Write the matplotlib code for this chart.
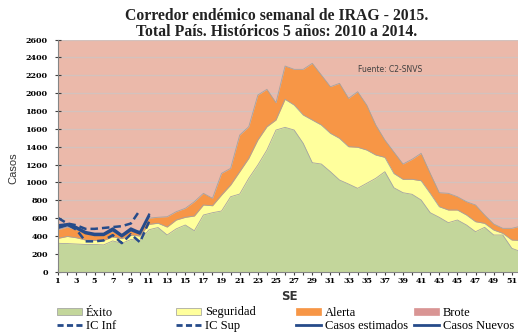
import numpy as np
import matplotlib
matplotlib.use("Agg")
import matplotlib.pyplot as plt
from matplotlib.lines import Line2D
from matplotlib.patches import Patch

# semanas epidemiologicas
semanas = list(range(1, 53))

# limites acumulados del corredor (techo de cada zona)
exito = [318, 315, 310, 305, 305, 300, 345, 318, 360, 350, 470, 495, 411, 480,
         523, 459, 635, 661, 680, 840, 870, 1046, 1195, 1363, 1587, 1617, 1587,
         1438, 1221, 1206, 1120, 1027, 982, 934, 990, 1046, 1120, 940, 885, 867,
         803, 661, 609, 549, 579, 523, 448, 497, 411, 411, 262, 224]
seguridad = [374, 395, 380, 355, 350, 350, 390, 370, 411, 400, 530, 543, 500, 579,
             609, 624, 747, 739, 859, 971, 1120, 1270, 1475, 1624, 1700, 1931,
             1867, 1755, 1699, 1643, 1550, 1494, 1400, 1394, 1363, 1307, 1281,
             1100, 1035, 1035, 1019, 878, 728, 691, 691, 635, 560, 542, 467, 430,
             355, 350]
alerta = [470, 500, 470, 430, 420, 420, 450, 420, 460, 460, 600, 610, 616, 672,
          710, 784, 878, 822, 1102, 1158, 1531, 1624, 1979, 2043, 1893, 2304,
          2267, 2267, 2334, 2203, 2072, 2110, 1942, 2016, 1867, 1643, 1475, 1340,
          1206, 1259, 1326, 1102, 885, 878, 840, 784, 747, 635, 534, 486, 486, 511]
brote = 2600

# casos 2015
sem_2015 = list(range(1, 12))
casos_estimados = [505, 535, 500, 445, 425, 425, 485, 410, 485, 440, 640]
casos_nuevos = [490, 520, 485, 430, 410, 410, 465, 395, 465, 425, 620]
ic_inf = [520, 530, 470, 340, 340, 350, 410, 320, 420, 330, 560]
ic_sup = [600, 540, 520, 480, 480, 490, 500, 510, 540, 690]

c_verde = "#C3D69B"
c_amarillo = "#FFFF9C"
c_naranja = "#F79646"
c_brote = "#EBB9AA"
c_brote_ley = "#D99594"
c_azul = "#264B8A"
c_borde = "#A3A3A3"

fig = plt.figure(figsize=(5.18, 3.33), dpi=100)
ax = fig.add_axes([58.3 / 518, 61.3 / 333, 462.6 / 518, 232.1 / 333])
ax.set_facecolor(c_brote)

x = np.array(semanas)
ax.fill_between(x, 0, alerta, color=c_naranja, lw=0, zorder=2)
ax.fill_between(x, 0, seguridad, color=c_amarillo, lw=0, zorder=3)
ax.fill_between(x, 0, exito, color=c_verde, lw=0, zorder=4)
for serie in (alerta, seguridad, exito):
    ax.plot(x, serie, color=c_borde, lw=0.6, zorder=5)

ax.plot(sem_2015, ic_inf, color=c_azul, lw=1.8, dashes=(3, 1.6), zorder=6)
ax.plot(sem_2015[:len(ic_sup)], ic_sup, color=c_azul, lw=1.8, dashes=(3, 1.6), zorder=6)
ax.plot(sem_2015, casos_estimados, color=c_azul, lw=1.6, zorder=7)
ax.plot(sem_2015, casos_nuevos, color=c_azul, lw=1.6, zorder=7)

ax.set_xlim(1, 52)
ax.set_ylim(0, brote)
ax.set_yticks(range(0, 2601, 200))
ax.yaxis.grid(True, color="#D3C2BE", lw=0.9)
ax.set_axisbelow(True)
ax.set_xticks(range(1, 53, 2))
ax.set_xticks(range(2, 53, 2), minor=True)

for s in ("top", "right"):
    ax.spines[s].set_visible(False)
for s in ("left", "bottom"):
    ax.spines[s].set_color("#858585")
    ax.spines[s].set_linewidth(0.8)
    ax.spines[s].set_zorder(8)

ax.tick_params(axis="both", which="both", direction="inout", length=5,
               width=0.8, color="#404040")
ax.tick_params(axis="x", pad=1.5)
ax.tick_params(axis="y", pad=5)
for lab in ax.get_xticklabels() + ax.get_yticklabels():
    lab.set_fontfamily("DejaVu Serif")
    lab.set_fontsize(5.8)
    lab.set_fontweight("bold")

ax.text(34, 2260, "Fuente: C2-SNVS", fontsize=5.5, color="#404040",
        va="center", family="DejaVu Sans", zorder=9)

fig.text(277 / 518, 1 - 16.5 / 333, "Corredor endémico semanal de IRAG - 2015.",
         ha="center", va="center", family="Liberation Serif", weight="bold",
         fontsize=11.3, color="#222222")
fig.text(277 / 518, 1 - 32.5 / 333, "Total País. Históricos 5 años: 2010 a 2014.",
         ha="center", va="center", family="Liberation Serif", weight="bold",
         fontsize=11.3, color="#222222")
fig.text(13 / 518, 1 - 168 / 333, "Casos", rotation=90, ha="center",
         va="center", family="Liberation Sans", fontsize=8, color="#333333")
fig.text(289 / 518, 1 - 297 / 333, "SE", ha="center", va="center",
         family="DejaVu Sans", weight="bold", fontsize=8.5, color="#333333")

# leyenda en cuatro columnas
columnas = [
    (Patch(facecolor=c_verde, edgecolor="#9a9a9a", lw=0.5), "Éxito",
     Line2D([], [], color=c_azul, lw=2, dashes=(2.2, 1.2)), "IC Inf"),
    (Patch(facecolor=c_amarillo, edgecolor="#9a9a9a", lw=0.5), "Seguridad",
     Line2D([], [], color=c_azul, lw=2, dashes=(2.2, 1.2)), "IC Sup"),
    (Patch(facecolor=c_naranja, edgecolor=c_naranja, lw=0.5), "Alerta",
     Line2D([], [], color=c_azul, lw=2), "Casos estimados"),
    (Patch(facecolor=c_brote_ley, edgecolor=c_brote_ley, lw=0.5), "Brote",
     Line2D([], [], color=c_azul, lw=2), "Casos Nuevos"),
]
x_col = [57, 176, 296, 414]
for xc, (h1, t1, h2, t2) in zip(x_col, columnas):
    fig.legend([h1, h2], [t1, t2], loc="upper left",
               bbox_to_anchor=(xc / 518, 1 - 306.5 / 333), frameon=False,
               prop={"family": "Liberation Serif", "size": 9},
               handlelength=2.0, handleheight=0.5, handletextpad=0.3,
               labelspacing=0.1, borderpad=0, borderaxespad=0)

fig.savefig("out.png", dpi=100)
